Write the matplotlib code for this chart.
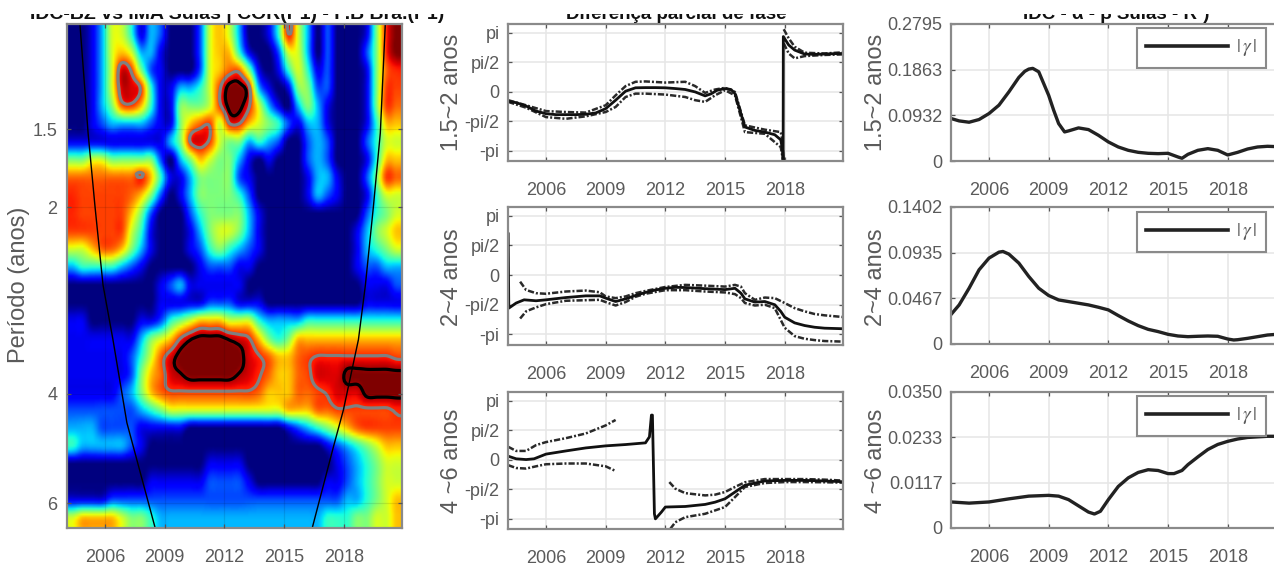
import logging
import numpy as np
import matplotlib
matplotlib.use("Agg")
import matplotlib.pyplot as plt
from matplotlib.colors import Normalize
from matplotlib.patches import Rectangle
from matplotlib.lines import Line2D

W, H = 1274, 566
plt.rcParams['font.family'] = ['Liberation Sans', 'DejaVu Sans']
plt.rcParams['mathtext.fontset'] = 'stix'
logging.getLogger('matplotlib.font_manager').setLevel(logging.ERROR)

YEAR_TICKS = [2006, 2009, 2012, 2015, 2018]
PERIOD_TICKS = [1.5, 2, 4, 6]
XLIM = (2004.09, 2020.93)
PHASE_TICKS = [-np.pi, -np.pi / 2, 0, np.pi / 2, np.pi]
PHASE_LABELS = ['-pi', '-pi/2', '0', 'pi/2', 'pi']

# wavelet power: rows top -> bottom, columns left -> right
POWER_CODES = {'r': .84, 'f': .87, 'g': .92, 'e': .96, 'b': 1.0, 'D': 1.0}
POWER_ROWS = [
    "0013664132" "0002676300" "14f6302000" "15fD",
    "0013676331" "0002677410" "0266302000" "25fD",
    "00136gr521" "0002678851" "0146412000" "158f",
    "00136ggr41" "13346rbbf3" "1015522000" "15rr",
    "001358r741" "15556rbbf6" "3103531000" "15r8",
    "0012333321" "1578r6ff76" "5421331000" "1477",
    "1111111111" "35fgr65534" "3200232000" "2466",
    "5566555552" "0357655310" "1000232000" "1477",
    "8888888f74" "1135555210" "0000133100" "25r8",
    "frrrrr8752" "0135555420" "0000132100" "1466",
    "frrrrr7520" "0024555531" "0000000000" "2456",
    "rrrrrr6410" "0013566531" "0000000001" "3567",
    "6678875310" "0012454321" "0000000001" "3456",
    "3444432100" "0001222110" "0000000001" "2233",
    "0000000001" "2311111100" "0000000000" "1112",
    "0000000001" "1111222111" "0000000000" "1111",
    "1100000112" "4567776664" "3333444444" "4444",
    "1111111356" "7febbbegf7" "5457777777" "7777",
    "1111112468" "gbbbbbbbgf" "8778rfffff" "fffr",
    "1111112578" "gebbbbbegf" "8778rgggbb" "bbbb",
    "1111123578" "rrrrrrrrr8" "77788rfggg" "bbbb",
    "2222222345" "6666666666" "6677788rrr" "rrrf",
    "3332222111" "1100000000" "0012345678" "rrrr",
    "4333332100" "0000000000" "0000001234" "5677",
    "0000000000" "0000111100" "0000000123" "4566",
    "0000000011" "1111222210" "0000001123" "4566",
    "1111222222" "2222222222" "2222222233" "4567",
    "6777765543" "3333333333" "3333334445" "5667",
]
LOG2P_TOP, LOG2P_BOTTOM = 0.021, 2.717

COI_LEFT_YEAR = [2004.74, 2005.15, 2005.5, 2005.9, 2006.4, 2007.1, 2008.52]
COI_LEFT_PERIOD = [1.015, 1.52, 2.0, 2.67, 3.27, 4.45, 6.57]
COI_RIGHT_YEAR = [2020.09, 2019.84, 2019.49, 2019.09, 2018.74, 2017.98, 2017.48, 2016.42]
COI_RIGHT_PERIOD = [1.015, 1.52, 2.0, 2.67, 3.27, 4.25, 4.87, 6.57]

# phase difference, 1.5~2 anos
P1_T = [2004.1, 2004.5, 2005, 2005.5, 2006, 2006.5, 2007, 2007.5, 2008, 2008.5, 2009, 2009.5, 2010, 2010.5, 2011,
        2011.5, 2012, 2012.5, 2013, 2013.5, 2014, 2014.3, 2014.6, 2015, 2015.3, 2015.5, 2015.8, 2016, 2016.5, 2017,
        2017.5, 2017.8, 2017.9, 2017.92, 2017.93, 2018.2, 2018.5, 2019, 2019.5, 2020, 2020.5, 2020.93]
P1_MAIN = [-.52, -.59, -.77, -1.04, -1.18, -1.23, -1.23, -1.23, -1.21, -1.14, -.91, -.46, .02, .20, .21,
           .21, .20, .16, .11, -.02, -.23, -.12, .07, .16, .11, -.11, -1.18, -1.89, -2.07, -2.16,
           -2.30, -2.57, -3.14, -3.68, 2.93, 2.48, 2.21, 2.0, 1.98, 2.0, 2.02, 2.03]
P1_BAND_T = [2004.1, 2005, 2006, 2007, 2008, 2009, 2009.5, 2010, 2010.5, 2011, 2012, 2013, 2013.5, 2014, 2014.5,
             2015, 2015.5, 2016, 2017, 2017.8, 2017.92, np.nan, 2017.95, 2018.2, 2018.5, 2019, 2020, 2020.93]
P1_UP = [-.46, -.73, -1.04, -1.09, -1.12, -.73, -.20, .29, .52, .54, .48, .52, .29, -.07, .11,
         .20, -.02, -1.80, -2.03, -2.16, -2.78, np.nan, 3.32, 2.84, 2.39, 2.07, 2.03, 2.09]
P1_LOW = [-.55, -.86, -1.36, -1.45, -1.32, -1.09, -.82, -.29, -.11, -.11, -.16, -.29, -.46, -.55, -.20,
          .07, -.20, -2.16, -2.25, -2.96, -3.68, np.nan, 2.57, 2.03, 1.77, 1.89, 1.95, 1.98]

# phase difference, 2~4 anos
P2_T = [2004.1, 2004.13, 2004.5, 2004.9, 2005.5, 2006, 2007, 2008, 2008.7, 2009, 2009.5, 2010, 2010.5, 2011, 2011.5,
        2012, 2012.5, 2013, 2014, 2015, 2015.5, 2015.8, 2016, 2016.5, 2017, 2017.5, 2017.8, 2018, 2018.5, 2019,
        2019.5, 2020, 2020.93]
P2_MAIN = [2.18, -1.75, -1.48, -1.31, -1.36, -1.31, -1.19, -1.10, -1.10, -1.22, -1.40, -1.26, -1.08, -.92, -.79,
           -.70, -.65, -.66, -.72, -.77, -.70, -.96, -1.26, -1.43, -1.40, -1.57, -1.92, -2.23, -2.53, -2.67,
           -2.76, -2.81, -2.84]
P2_BAND_T = [2004.7, 2005, 2005.5, 2006, 2007, 2008, 2008.7, 2009, 2009.5, 2010, 2010.5, 2011, 2012, 2013, 2014,
             2015, 2015.5, 2015.8, 2016, 2016.5, 2017, 2017.5, 2018, 2018.5, 2019, 2019.5, 2020, 2020.93]
P2_UP = [-.35, -.79, -.96, -.99, -.87, -.82, -.91, -1.13, -1.22, -1.13, -.96, -.84, -.63, -.52, -.56,
         -.61, -.52, -.61, -.96, -1.31, -1.19, -1.22, -1.48, -1.75, -1.92, -2.06, -2.13, -2.22]
P2_LOW = [-2.30, -1.92, -1.71, -1.54, -1.36, -1.33, -1.31, -1.43, -1.61, -1.43, -1.15, -.99, -.80, -.80, -.87,
          -.92, -1.01, -1.22, -1.48, -1.61, -1.57, -1.75, -2.79, -3.23, -3.37, -3.44, -3.49, -3.52]

# phase difference, 4~6 anos
P3_T = [2004.1, 2004.5, 2005, 2005.4, 2006, 2007, 2008, 2009, 2010, 2011, 2011.2, 2011.3, 2011.35, 2011.45, 2011.5,
        2011.8, 2012, 2013, 2014, 2014.5, 2015, 2015.5, 2016, 2017, 2018, 2019, 2020, 2020.93]
P3_MAIN = [.18, .04, 0, .04, .29, .46, .62, .73, .80, .89, 1.21, 2.37, 2.37, -2.89, -3.16,
           -2.80, -2.53, -2.50, -2.39, -2.27, -2.09, -1.73, -1.37, -1.14, -1.11, -1.11, -1.14, -1.18]
P3_UP_T = [2004.1, 2004.5, 2005, 2005.5, 2006, 2007, 2008, 2009, 2009.5, np.nan,
           2012.2, 2012.5, 2013, 2014, 2014.5, 2015, 2015.5, 2016, 2017, 2018, 2019, 2020, 2020.93]
P3_UP = [.68, .46, .46, .77, .93, 1.14, 1.39, 1.82, 2.11, np.nan,
         -1.20, -1.55, -1.79, -1.91, -1.87, -1.73, -1.46, -1.21, -1.04, -1.04, -1.04, -1.07, -1.12]
P3_LOW_T = [2004.1, 2004.5, 2005, 2005.5, 2006, 2007, 2008, 2009, 2009.5, np.nan,
            2012.25, 2012.5, 2013, 2014, 2015, 2015.5, 2016, 2017, 2018, 2019, 2020, 2020.93]
P3_LOW = [-.30, -.45, -.48, -.36, -.25, -.21, -.21, -.36, -.61, np.nan,
          -3.69, -3.34, -3.07, -2.89, -2.53, -2.0, -1.46, -1.25, -1.20, -1.20, -1.21, -1.23]

# gain
G1_T = [2004.1, 2004.5, 2005, 2005.5, 2006, 2006.5, 2007, 2007.5, 2007.8, 2008, 2008.2, 2008.5, 2008.75, 2009, 2009.25,
        2009.5, 2009.8, 2010, 2010.5, 2011, 2011.5, 2012, 2012.5, 2013, 2013.5, 2014, 2014.5, 2015, 2015.5, 2015.7,
        2016, 2016.5, 2017, 2017.5, 2018, 2018.5, 2019, 2019.5, 2020, 2020.93]
G1 = [.0866, .0818, .0791, .0846, .0968, .1139, .141, .1705, .183, .1875, .189, .182, .158, .134, .1037,
      .0764, .0593, .0614, .0675, .0641, .0525, .0389, .0286, .0218, .0177, .0157, .015, .0157, .0082, .0055,
      .0136, .0218, .0252, .0218, .0123, .0177, .0245, .0286, .03, .0286]
G2_T = [2004.1, 2004.5, 2005, 2005.5, 2006, 2006.5, 2006.7, 2007, 2007.5, 2008, 2008.5, 2009, 2009.5, 2010, 2010.5,
        2011, 2011.5, 2012, 2012.5, 2013, 2013.5, 2014, 2014.5, 2015, 2015.5, 2016, 2016.5, 2017, 2017.5, 2018,
        2018.3, 2018.5, 2019, 2019.5, 2020, 2020.93]
G2 = [.0304, .04, .0571, .0759, .0879, .094, .0947, .092, .0828, .0691, .0571, .0496, .0451, .0434, .0417,
      .04, .0376, .0349, .0291, .0236, .0188, .015, .0127, .0099, .0082, .0075, .0079, .0082, .0079, .0051,
      .0041, .0044, .0058, .0075, .0092, .0106]
G3_T = [2004.1, 2005, 2006, 2007, 2008, 2009, 2009.5, 2010, 2010.5, 2011, 2011.3, 2011.6, 2012, 2012.5, 2013,
        2013.5, 2014, 2014.5, 2015, 2015.3, 2015.7, 2016, 2016.5, 2017, 2017.5, 2018, 2018.5, 2019, 2020, 2020.93]
G3 = [.0067, .0064, .0067, .0075, .0082, .0084, .0082, .0073, .0057, .0041, .0036, .0043, .0073, .0107, .0129,
      .0143, .015, .0148, .014, .014, .0148, .0163, .0183, .0202, .0215, .0223, .0229, .0233, .0236, .0236]

GAIN_MAX = [.2795, .1402, .0350]
GAIN_LABELS = [['0', '0.0932', '0.1863', '0.2795'], ['0', '0.0467', '0.0935', '0.1402'], ['0', '0.0117', '0.0233', '0.0350']]
BAND_LABELS = ['1.5~2 anos', '2~4 anos', '4 ~6 anos']
TITLES = ['IDC-BZ vs IMA Sulas | COR(P1) - P.B Bra.(P1)', 'Diferença parcial de fase', 'IDC - α - β Sulas - R²)']

TXT = '#5a5a5a'
EDGE = '#8a8a8a'
TICKPT = 13

fig = plt.figure(figsize=(W / 100, H / 100), dpi=100, facecolor='white')


def axes_px(l, t, r, b):
    return fig.add_axes([l / W, 1 - b / H, (r - l) / W, (b - t) / H])


def style(ax, pad_x=15, pad_y=6):
    for s in ax.spines.values():
        s.set_color(EDGE)
        s.set_linewidth(1.6)
    ax.set_xlim(*XLIM)
    ax.set_xticks(YEAR_TICKS)
    ax.tick_params(axis='both', direction='in', length=3, width=.9, color='#555555', top=True, right=True,
                   labelcolor=TXT, labelsize=TICKPT)
    ax.tick_params(axis='x', pad=pad_x)
    ax.tick_params(axis='y', pad=pad_y)
    ax.grid(True, color='#e6e6e6', lw=1.1)
    ax.set_axisbelow(True)


def side_label(ax, text, x, y, size=17):
    ax.set_ylabel(text, fontsize=size, color=TXT, va='center')
    ax.yaxis.set_label_coords(x / W, 1 - y / H, transform=fig.transFigure)


def catmull(a, n, axis):
    a = np.moveaxis(a, axis, 0)
    m = a.shape[0]
    pos = np.linspace(0, m - 1, (m - 1) * n + 1)
    i = np.clip(pos.astype(int), 0, m - 2)
    t = (pos - i).reshape((-1,) + (1,) * (a.ndim - 1))
    p0, p1, p2, p3 = a[np.clip(i - 1, 0, m - 1)], a[i], a[i + 1], a[np.clip(i + 2, 0, m - 1)]
    out = .5 * (2 * p1 + (p2 - p0) * t + (2 * p0 - 5 * p1 + 4 * p2 - p3) * t ** 2 + (3 * p1 - p0 - 3 * p2 + p3) * t ** 3)
    return np.moveaxis(out, 0, axis)


Z = np.array([[POWER_CODES[c] if c in POWER_CODES else int(c) / 10 for c in row] for row in POWER_ROWS])
Zc = Z.copy()
Zc[:5, 30:] = 0      # the dark red top-right corner carries no significance contour
Zc[9:13, :10] = 0    # nor does the large red patch on the left
nr, nc = Z.shape
dx = (XLIM[1] - XLIM[0]) / nc
dy = (LOG2P_BOTTOM - LOG2P_TOP) / nr
# one edge-repeated ring lets the image run past the axes and be clipped by them
xc = XLIM[0] + dx * (np.arange(-1, nc + 1) + .5)
yc = LOG2P_TOP + dy * (np.arange(-1, nr + 1) + .5)
Z = np.pad(Z, 1, mode='edge')
Zc = np.pad(Zc, 1, mode='edge')
N = 6
Zf = np.clip(catmull(catmull(Z, N, 0), N, 1), 0, 1)
Zcf = catmull(catmull(Zc, N, 0), N, 1)
xf = catmull(xc, N, 0)
yf = catmull(yc, N, 0)

# wavelet panel
ax0 = axes_px(67, 24, 402, 528)
style(ax0, pad_x=15, pad_y=7)
ax0.grid(True, color='black', alpha=.1, lw=.9)
ax0.set_axisbelow(False)
ax0.imshow(Zf, cmap='jet', norm=Normalize(0, 1), aspect='auto', interpolation='bilinear',
           extent=(xf[0], xf[-1], yf[-1], yf[0]))
ax0.contour(xf, yf, Zcf, levels=[.86], colors='#808080', linewidths=2.3)
ax0.contour(xf, yf, Zcf, levels=[.97], colors='black', linewidths=2.3)
ax0.plot(COI_LEFT_YEAR, np.log2(COI_LEFT_PERIOD), color='black', lw=1)
ax0.plot(COI_RIGHT_YEAR, np.log2(COI_RIGHT_PERIOD), color='black', lw=1)
ax0.set_xlim(*XLIM)
ax0.set_ylim(LOG2P_BOTTOM, LOG2P_TOP)
ax0.set_yticks(np.log2(PERIOD_TICKS))
ax0.set_yticklabels([f'{p:g}' for p in PERIOD_TICKS])
side_label(ax0, 'Período (anos)', 19, 285)

# phase panels
phase_boxes = [(24, 161), (207, 345), (392, 529)]
phase_sets = [
    (P1_T, P1_MAIN, P1_BAND_T, P1_UP, P1_BAND_T, P1_LOW),
    (P2_T, P2_MAIN, P2_BAND_T, P2_UP, P2_BAND_T, P2_LOW),
    (P3_T, P3_MAIN, P3_UP_T, P3_UP, P3_LOW_T, P3_LOW),
]
label_y = [92, 277, 461]
for k, (box, data) in enumerate(zip(phase_boxes, phase_sets)):
    ax = axes_px(508, box[0], 843, box[1])
    style(ax)
    t, m, tu, u, tl, lo = data
    ax.plot(tu, u, color='#2a2a2a', lw=1.8, ls=(0, (2.5, 0.8, 0.8, 0.8)))
    ax.plot(tl, lo, color='#2a2a2a', lw=1.8, ls=(0, (2.5, 0.8, 0.8, 0.8)))
    ax.plot(t, m, color='#111111', lw=2)
    ax.set_ylim(-3.7, 3.6)
    ax.set_yticks(PHASE_TICKS)
    ax.set_yticklabels(PHASE_LABELS)
    side_label(ax, BAND_LABELS[k], 452, label_y[k])

# gain panels
gain_boxes = [(24, 161), (207, 344), (392, 528)]
gain_sets = [(G1_T, G1), (G2_T, G2), (G3_T, G3)]
legend_centers = [(1201.5, 48), (1201.5, 232), (1201.5, 416)]
for k, (box, (t, g)) in enumerate(zip(gain_boxes, gain_sets)):
    ax = axes_px(951, box[0], 1286, box[1])
    style(ax)
    ax.plot(t, g, color='#222222', lw=2.4, solid_joinstyle='round')
    ax.set_ylim(0, GAIN_MAX[k])
    ax.set_yticks([0, GAIN_MAX[k] / 3, 2 * GAIN_MAX[k] / 3, GAIN_MAX[k]])
    ax.set_yticklabels(GAIN_LABELS[k])
    side_label(ax, BAND_LABELS[k], 876, label_y[k])
    cx, cy = legend_centers[k]
    handle = Line2D([], [], color='#222222', lw=2.6)
    leg = ax.legend([handle], [r'$|\,\gamma\,|$'], loc='center', bbox_to_anchor=(cx / W, 1 - cy / H),
                    bbox_transform=fig.transFigure, fontsize=14, handlelength=4.2, borderpad=.5,
                    fancybox=False, framealpha=1, edgecolor=EDGE, labelcolor=TXT, handletextpad=.4)
    leg.get_frame().set_linewidth(1.5)

# titles: the source is cut through their upper half
title_x = [237, 676, 1116]
title_pt = [14, 13.5, 13.5]
for x, s, pt in zip(title_x, TITLES, title_pt):
    fig.text(x / W, 1 - 19 / H, s, ha='center', va='baseline', fontsize=pt, fontweight='bold', color='#111111',
             zorder=5)
mask = Rectangle((0, 1 - 14 / H), 1, 14 / H, transform=fig.transFigure, facecolor='white', edgecolor='none', zorder=50)
fig.add_artist(mask)

fig.savefig('out.png', dpi=100, facecolor='white')
